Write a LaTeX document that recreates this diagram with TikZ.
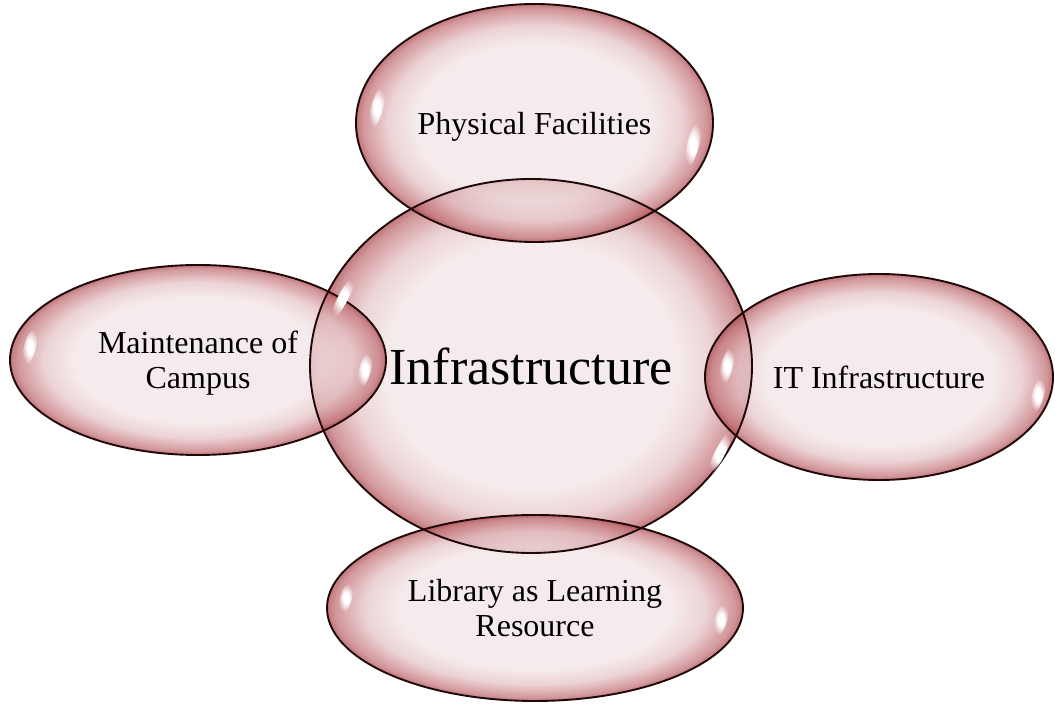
\documentclass[tikz,border=0pt]{standalone}
\usepackage{fontspec}
\setmainfont{Liberation Serif}
\usetikzlibrary{shapes.geometric,fadings}
\definecolor{bubin}{RGB}{241,227,228}
\definecolor{bubmid}{RGB}{228,192,195}
\definecolor{bubrim}{RGB}{192,108,113}
\definecolor{bubedge}{RGB}{165,62,68}
\definecolor{bubline}{RGB}{30,8,8}
\pgfdeclareradialshading{bubbleshade}{\pgfpoint{0bp}{0bp}}{color(0bp)=(bubin); color(16.5bp)=(bubin); color(20.5bp)=(bubmid); color(24bp)=(bubrim); color(25bp)=(bubedge); color(50bp)=(bubedge)}
\pgfdeclareradialshading{hlfadeshade}{\pgfpoint{0bp}{0bp}}{color(0bp)=(white); color(9bp)=(white); color(25bp)=(black); color(50bp)=(black)}
\pgfdeclarefading{hlfade}{\pgfuseshading{hlfadeshade}}
\begin{document}
\begin{tikzpicture}[x=1pt,y=1pt,
  bubblenode/.style={ellipse, inner sep=0pt, shading=bubbleshade,
    fill opacity=0.7, text opacity=1, text depth=0pt,
    font=\fontsize{32}{35}\selectfont, align=center},
  rimline/.style={draw=bubline, line width=1.9pt},
  hl/.style={fill=white, path fading=hlfade, fill opacity=1}]
\useasboundingbox (0,0) rectangle (1055,704);

\node[bubblenode, minimum width=442pt, minimum height=374pt,
      font=\fontsize{52}{60}\selectfont] (C) at (531,338) {Infrastructure};
\node[bubblenode, minimum width=357pt, minimum height=238pt] (T) at (534.5,581) {Physical Facilities};
\node[bubblenode, minimum width=376pt, minimum height=190pt] (L) at (198,344) {Maintenance of\\Campus};
\node[bubblenode, minimum width=348pt, minimum height=206pt] (R) at (879,327) {IT Infrastructure};
\node[bubblenode, minimum width=416pt, minimum height=186pt] (B) at (535,96) {Library as Learning\\Resource};

% outlines, all on top so that they show through the overlaps
\draw[rimline] (C.center) ellipse [x radius=221, y radius=187];
\draw[rimline] (T.center) ellipse [x radius=178.5, y radius=119];
\draw[rimline] (L.center) ellipse [x radius=188, y radius=95];
\draw[rimline] (R.center) ellipse [x radius=174, y radius=103];
\draw[rimline] (B.center) ellipse [x radius=208, y radius=93];

% glossy highlights
\fill[hl, rotate around={-28:(343,406)}] (343,406) ellipse (5 and 24);
\fill[hl, rotate around={-27:(720,251)}] (720,251) ellipse (5 and 25);
\fill[hl, rotate around={-15:(377,596)}] (377,596) ellipse (6 and 22);
\fill[hl, rotate around={-15:(693,559)}] (693,559) ellipse (6 and 24);
\fill[hl, rotate around={-15:(30,357)}] (30,357) ellipse (6 and 19);
\fill[hl, rotate around={-15:(365,334)}] (365,334) ellipse (6 and 18);
\fill[hl, rotate around={-15:(727,338)}] (727,338) ellipse (6 and 19);
\fill[hl, rotate around={-15:(1038,309)}] (1038,309) ellipse (6 and 18);
\fill[hl, rotate around={-15:(346,106)}] (346,106) ellipse (6 and 15);
\fill[hl, rotate around={-15:(721,84)}] (721,84) ellipse (6 and 16);
\end{tikzpicture}
\end{document}
